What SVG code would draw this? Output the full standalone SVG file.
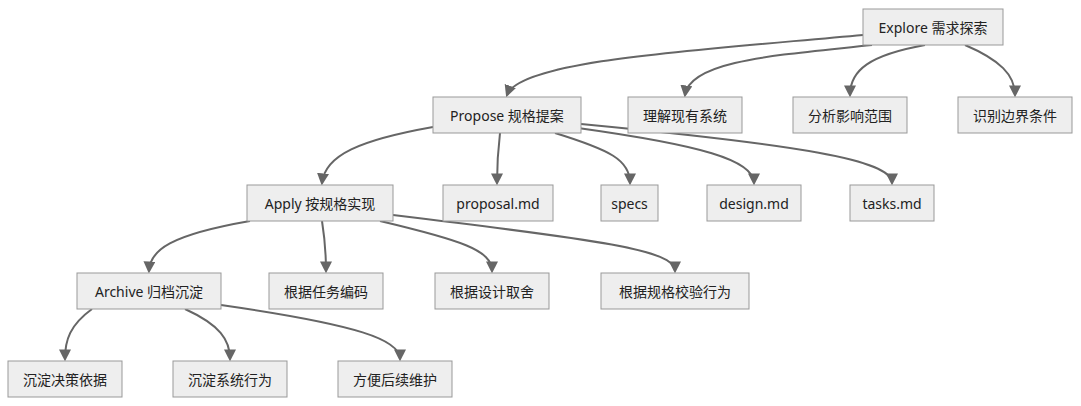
<svg xmlns="http://www.w3.org/2000/svg" width="1081" height="406" viewBox="0 0 1081 406">
<style>
.n rect{fill:#eeeeee;stroke:#999999;stroke-width:1}
.n text{font-family:"Noto Sans","Noto Sans CJK SC",sans-serif;font-size:14px;fill:#222;text-anchor:middle;dominant-baseline:central}
.e path{fill:none;stroke:#666;stroke-width:2;marker-end:url(#a)}
</style>
<defs><marker id="a" viewBox="0 0 10 10" refX="8" refY="5" markerWidth="6" markerHeight="6" orient="auto" markerUnits="strokeWidth"><path d="M0,0L10,5L0,10z" fill="#666"/></marker></defs>
<rect width="1081" height="406" fill="#fff"/>
<g id="connectors" class="e">
<path d="M863,35 C700,50 520,60 507,95"/>
<path d="M872,45 C780,55 690,60 685,95"/>
<path d="M925,45 C870,55 850,70 850,95"/>
<path d="M965,45 C1000,60 1015,75 1015,95"/>
<path d="M433,127 C360,140 325,155 322,183"/>
<path d="M500,133 C498,150 497,165 497,183"/>
<path d="M555,133 C610,150 630,160 630,183"/>
<path d="M578,128 C700,145 754,160 754,183"/>
<path d="M581,124 C800,145 892,160 892,183"/>
<path d="M250,221 C170,235 150,250 149,271"/>
<path d="M322,221 C325,240 326,255 326,271"/>
<path d="M380,221 C460,240 492,250 492,271"/>
<path d="M393,215 C600,240 675,250 675,271"/>
<path d="M92,309 C70,325 65,340 65,359"/>
<path d="M185,309 C220,325 230,340 230,359"/>
<path d="M221,305 C360,325 400,340 400,359"/>
</g>
<g id="explore" class="n"><rect x="863" y="9" width="140" height="36"/><text x="933" y="27">Explore 需求探索</text></g>
<g id="propose" class="n"><rect x="433" y="97" width="148" height="36"/><text x="507" y="115">Propose 规格提案</text></g>
<g id="understand" class="n"><rect x="628" y="97" width="114" height="36"/><text x="685" y="115">理解现有系统</text></g>
<g id="analyze" class="n"><rect x="793" y="97" width="114" height="36"/><text x="850" y="115">分析影响范围</text></g>
<g id="boundary" class="n"><rect x="958" y="97" width="114" height="36"/><text x="1015" y="115">识别边界条件</text></g>
<g id="apply" class="n"><rect x="247" y="185" width="146" height="36"/><text x="320" y="203">Apply 按规格实现</text></g>
<g id="proposal" class="n"><rect x="443" y="185" width="110" height="36"/><text x="498" y="203">proposal.md</text></g>
<g id="specs" class="n"><rect x="601" y="185" width="57" height="36"/><text x="629.5" y="203">specs</text></g>
<g id="design" class="n"><rect x="707" y="185" width="94" height="36"/><text x="754" y="203">design.md</text></g>
<g id="tasks" class="n"><rect x="850" y="185" width="84" height="36"/><text x="892" y="203">tasks.md</text></g>
<g id="archive" class="n"><rect x="77" y="273" width="144" height="36"/><text x="149" y="291">Archive 归档沉淀</text></g>
<g id="bytask" class="n"><rect x="269" y="273" width="114" height="36"/><text x="326" y="291">根据任务编码</text></g>
<g id="bydesign" class="n"><rect x="435" y="273" width="114" height="36"/><text x="492" y="291">根据设计取舍</text></g>
<g id="byspec" class="n"><rect x="601" y="273" width="148" height="36"/><text x="675" y="291">根据规格校验行为</text></g>
<g id="decision" class="n"><rect x="8" y="361" width="114" height="36"/><text x="65" y="379">沉淀决策依据</text></g>
<g id="behavior" class="n"><rect x="173" y="361" width="114" height="36"/><text x="230" y="379">沉淀系统行为</text></g>
<g id="maint" class="n"><rect x="338" y="361" width="114" height="36"/><text x="395" y="379">方便后续维护</text></g>
</svg>
